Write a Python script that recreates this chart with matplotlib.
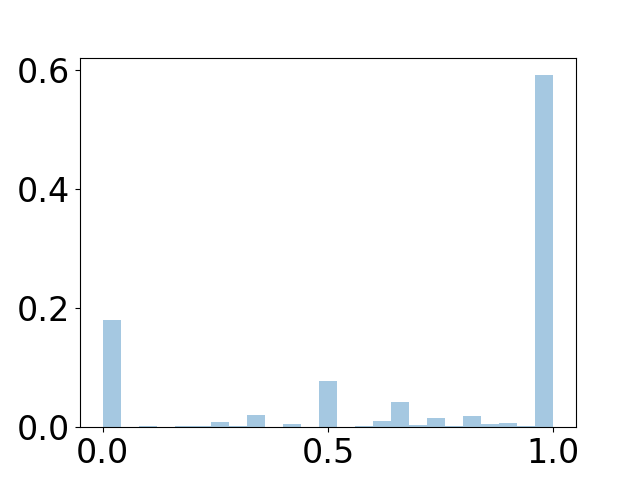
import numpy as np
import matplotlib
matplotlib.use("Agg")
import matplotlib.pyplot as plt

# bin edges: 25 equal bins on [0, 1]
bin_edges = np.linspace(0.0, 1.0, 26)

# fraction of samples in each bin
fractions = [0.179, 0.0, 0.002, 0.0, 0.002, 0.002, 0.0094, 0.002, 0.0207, 0.0,
             0.0055, 0.0, 0.078, 0.0, 0.002, 0.011, 0.043, 0.004, 0.016, 0.002,
             0.018, 0.0055, 0.0077, 0.002, 0.5905]

fig, ax = plt.subplots(figsize=(6.4, 4.8), dpi=100)

ax.hist(bin_edges[:-1], bins=bin_edges, weights=fractions,
        color="#1f77b4", alpha=0.4)

ax.set_xticks([0.0, 0.5, 1.0])
ax.set_yticks([0.0, 0.2, 0.4, 0.6])
ax.tick_params(labelsize=24)

fig.savefig("out.png", dpi=100)
